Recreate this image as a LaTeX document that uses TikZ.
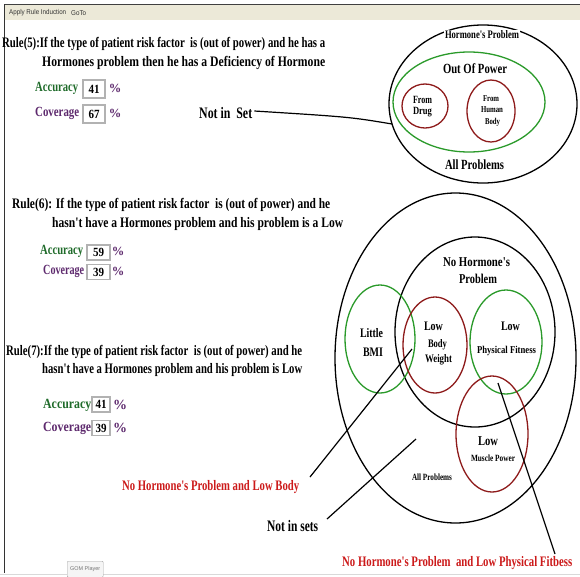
\documentclass[tikz,border=0pt]{standalone}
\usepackage{fontspec}
\usepackage{graphicx}
\setmainfont{Liberation Serif}[Ligatures=TeXOff]
\newfontfamily\uifont{Liberation Sans}
\usetikzlibrary{shapes.geometric}

\definecolor{accgreen}{HTML}{1F6B2A}
\definecolor{covpurple}{HTML}{5E2A6E}
\definecolor{alertred}{HTML}{CC1A1A}
\definecolor{setgreen}{HTML}{2A9A2A}
\definecolor{setred}{HTML}{8E1B1B}
\definecolor{menubar}{HTML}{ECE9D8}

% squeeze a text to a given width (in pt), keeping its height
\newcommand\fw[2]{\resizebox{#1pt}{\height}{#2}}
\newcommand\fsz[1]{\fontsize{#1}{#1}\selectfont\bfseries}

\begin{document}
\begin{tikzpicture}[x=1pt,y=-1pt,
  txt/.style={inner sep=0pt},
  ruletxt/.style={txt, anchor=west, font=\fsz{14.5}},
  acc/.style={txt, anchor=west, font=\fsz{14}, text=accgreen},
  cov/.style={txt, anchor=west, font=\fsz{14}, text=covpurple},
  pct/.style={txt, font=\fsz{12.5}, text=covpurple},
  valbox/.style={draw=black!30, line width=1.1pt, fill=white, inner sep=0pt,
    font=\fsz{12.5}},
  setline/.style={line width=1.3pt},
  blackset/.style={ellipse, draw=black, setline, inner sep=0pt},
  greenset/.style={ellipse, draw=setgreen, setline, inner sep=0pt},
  redset/.style={ellipse, draw=setred, setline, inner sep=0pt},
  alert/.style={txt, font=\fsz{14.5}, text=alertred},
  pointer/.style={draw=black, line width=1.2pt},
]
\useasboundingbox (0,0) rectangle (580,576);
\fill[white] (0,0) rectangle (580,576);

% window frame and menu bar
\fill[menubar] (5,5) rectangle (580,20);
\draw[black!75, line width=1pt] (4,4.5) -- (580,4.5);
\draw[black!80, line width=1pt] (4.5,4) -- (4.5,573);
\draw[black!15, line width=0.8pt] (0,574.6) -- (580,574.6);
\node[txt, anchor=west, font=\uifont\fontsize{7}{7}\selectfont, text=black!80]
  (menuA) at (9,13) {\fw{57}{Apply Rule Induction}};
\node[txt, anchor=west, font=\uifont\fontsize{7}{7}\selectfont, text=black!80]
  (menuB) at (71,13) {\fw{15}{GoTo}};

% Rule 5
\node[ruletxt] (r5a) at (2,44) {\fw{323}{Rule(5):If the type of patient risk factor\ \ is (out of power) and he has a}};
\node[ruletxt] (r5b) at (42,63) {\fw{283}{Hormones problem then he has a Deficiency of Hormone}};
\node[acc] (acc5) at (35,88) {\fw{43}{Accuracy}};
\node[valbox, minimum width=22pt, minimum height=18pt] (acc5v) at (94,89) {\fw{11}{41}};
\node[pct] (acc5p) at (115,88) {\%};
\node[cov] (cov5) at (35,113) {\fw{44}{Coverage}};
\node[valbox, minimum width=22pt, minimum height=18pt] (cov5v) at (94,114) {\fw{11}{67}};
\node[pct] (cov5p) at (115,113) {\%};
\node[txt, anchor=west, font=\fsz{16}] (nis) at (199,113) {\fw{53}{Not in\ \ Set}};

% Rule 6
\node[ruletxt] (r6a) at (12,205) {\fw{318}{Rule(6): If the type of patient risk factor\ \ is (out of power) and he}};
\node[ruletxt] (r6b) at (52,224) {\fw{291}{hasn't have a Hormones problem and his problem is a Low}};
\node[acc] (acc6) at (40,251) {\fw{43}{Accuracy}};
\node[valbox, minimum width=23pt, minimum height=15pt] (acc6v) at (98.5,252.5) {\fw{11}{59}};
\node[pct] (acc6p) at (118,251) {\%};
\node[cov] (cov6) at (43,271) {\fw{41}{Coverage}};
\node[valbox, minimum width=23pt, minimum height=15pt] (cov6v) at (98.5,272) {\fw{11}{39}};
\node[pct] (cov6p) at (118,271) {\%};

% Rule 7
\node[ruletxt] (r7a) at (6,352) {\fw{296}{Rule(7):If the type of patient risk factor\ \ is (out of power) and he}};
\node[ruletxt] (r7b) at (42,370) {\fw{260}{hasn't have a Hormones problem and his problem is Low}};
\node[acc] (acc7) at (43,405) {\fw{48}{Accuracy}};
\node[valbox, minimum width=18pt, minimum height=15pt] (acc7v) at (101,404.5) {\fw{11}{41}};
\node[pct, font=\fsz{14}] (acc7p) at (120,405) {\%};
\node[cov] (cov7) at (43,428) {\fw{48}{Coverage}};
\node[valbox, minimum width=18pt, minimum height=15pt] (cov7v) at (101,428) {\fw{11}{39}};
\node[pct, font=\fsz{14}] (cov7p) at (120,428) {\%};

% Hormone's problem sets
\node[blackset, minimum width=188pt, minimum height=158pt] (hp) at (483,104) {};
\node[greenset, minimum width=152pt, minimum height=100pt] (oop) at (469,102) {};
\node[redset, minimum width=46pt, minimum height=44pt] (drug) at (425,106) {};
\node[redset, minimum width=48pt, minimum height=62pt] (human) at (491,111) {};
\node[txt, fill=white, inner sep=1pt, font=\fsz{11.5}] (hpl) at (482,35) {\fw{74}{Hormone's Problem}};
\node[txt, font=\fsz{14}] (oopl) at (475,69) {\fw{64}{Out Of Power}};
\node[txt, font=\fsz{11}] (drug1) at (422.5,100) {\fw{19}{From}};
\node[txt, font=\fsz{11}] (drug2) at (422.5,112) {\fw{19}{Drug}};
\node[txt, font=\fsz{9}] (hum1) at (491,99) {\fw{16}{From}};
\node[txt, font=\fsz{9}] (hum2) at (492,110) {\fw{22}{Human}};
\node[txt, font=\fsz{9}] (hum3) at (492.5,122) {\fw{15}{Body}};
\node[txt, font=\fsz{14}] (allp1) at (474.5,165) {\fw{59}{All Problems}};

% No Hormone's problem sets
\node[blackset, minimum width=241pt, minimum height=330pt] (allp) at (455.5,358) {};
\node[blackset, minimum width=160pt, minimum height=190pt] (nhp) at (475,332) {};
\node[greenset, minimum width=70pt, minimum height=108pt] (bmi) at (380,339) {};
\node[redset, minimum width=64pt, minimum height=96pt] (bw) at (435,345) {};
\node[greenset, minimum width=72pt, minimum height=104pt] (pf) at (506,342) {};
\node[redset, minimum width=72pt, minimum height=116pt] (mp) at (492,434) {};

\node[txt, font=\fsz{13.5}] (nhp1) at (476.5,262) {\fw{67}{No Hormone's}};
\node[txt, font=\fsz{13.5}] (nhp2) at (478,279) {\fw{38}{Problem}};
\node[txt, font=\fsz{13}] (bmi1) at (371.5,333) {\fw{23}{Little}};
\node[txt, font=\fsz{13}] (bmi2) at (373,352) {\fw{20}{BMI}};
\node[txt, font=\fsz{13}] (bw1) at (433.5,326) {\fw{19}{Low}};
\node[txt, font=\fsz{11.5}] (bw2) at (437.5,345) {\fw{19}{Body}};
\node[txt, font=\fsz{11.5}] (bw3) at (438.5,360) {\fw{27}{Weight}};
\node[txt, font=\fsz{13}] (pf1) at (510.5,326) {\fw{19}{Low}};
\node[txt, font=\fsz{10.5}] (pf2) at (506.5,351) {\fw{59}{Physical Fitness}};
\node[txt, font=\fsz{13.5}] (mp1) at (488,441) {\fw{20}{Low}};
\node[txt, font=\fsz{9.5}] (mp2) at (493,458) {\fw{44}{Muscle Power}};
\node[txt, font=\fsz{9.5}] (allp2) at (432,477) {\fw{40}{All Problems}};

% labels with pointers
\node[alert, anchor=west] (lbw) at (122,487) {\fw{177}{No Hormone's Problem and Low Body}};
\node[txt, anchor=west, font=\fsz{16}] (nis2) at (267,526) {\fw{51}{Not in sets}};
\node[alert, anchor=west] (lpf) at (342,563) {\fw{230}{No Hormone's Problem\ \ and Low Physical Fitbess}};

\coordinate (nisEnd) at (392,124);
\coordinate (bwIn) at (412,349);
\coordinate (bwOut) at (310,477);
\coordinate (allIn) at (416,439);
\coordinate (allOut) at (327,519);
\coordinate (pfIn) at (498,383);
\coordinate (pfOut) at (555,554);

\draw[pointer] ([xshift=2pt,yshift=2pt]nis.east) .. controls (350,117) .. (nisEnd);
\draw[pointer] (bwOut) -- (bwIn);
\draw[pointer] (allOut) -- (allIn);
\draw[pointer] (pfOut) -- (pfIn);

% media player button
\node[draw=black!35, fill=black!4, rounded corners=1pt, minimum width=36pt,
  minimum height=16pt, inner sep=0pt, anchor=north west,
  font=\uifont\fontsize{5.5}{5.5}\selectfont, text=black!55] (gom) at (67,561)
  {\fw{30}{GOM Player}};
\end{tikzpicture}
\end{document}
